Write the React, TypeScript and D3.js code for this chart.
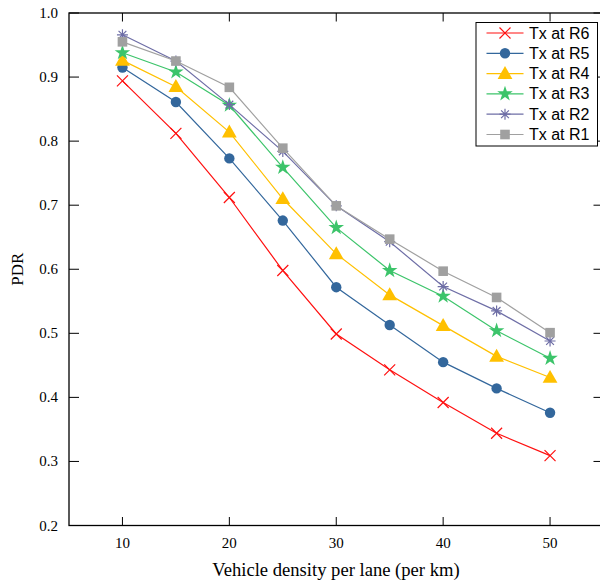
import React from "react";
import * as d3 from "d3";

const densities = [10, 15, 20, 25, 30, 35, 40, 45, 50];
const r6 = [0.894, 0.812, 0.712, 0.598, 0.499, 0.443, 0.392, 0.344, 0.309];
const r5 = [0.915, 0.861, 0.773, 0.676, 0.572, 0.513, 0.455, 0.414, 0.376];
const r4 = [0.926, 0.885, 0.814, 0.710, 0.624, 0.560, 0.512, 0.464, 0.431];
const r3 = [0.938, 0.908, 0.856, 0.759, 0.665, 0.598, 0.558, 0.504, 0.461];
const r2 = [0.966, 0.925, 0.857, 0.784, 0.699, 0.643, 0.573, 0.535, 0.488];
const r1 = [0.955, 0.925, 0.884, 0.789, 0.699, 0.647, 0.597, 0.556, 0.501];
const xTicks = [10, 20, 30, 40, 50];
const yTicks = [0.2, 0.3, 0.4, 0.5, 0.6, 0.7, 0.8, 0.9, 1.0];

type Series = { name: string; values: number[]; color: string; marker: string };
const series: Series[] = [
  { name: "Tx at R6", values: r6, color: "#ff1010", marker: "x" },
  { name: "Tx at R5", values: r5, color: "#33679c", marker: "circle" },
  { name: "Tx at R4", values: r4, color: "#ffc000", marker: "triangle" },
  { name: "Tx at R3", values: r3, color: "#3cc46a", marker: "star" },
  { name: "Tx at R2", values: r2, color: "#6e6ea6", marker: "asterisk" },
  { name: "Tx at R1", values: r1, color: "#a0a0a0", marker: "square" },
];

const W = 600;
const H = 582;
const left = 69;
const right = 603.5;
const top = 13;
const bottom = 525.5;

const x = d3.scaleLinear().domain([5, 55]).range([left, right]);
const y = d3.scaleLinear().domain([0.2, 1.0]).range([bottom, top]);

function Marker({ kind, cx, cy, color }: { kind: string; cx: number; cy: number; color: string }) {
  switch (kind) {
    case "x": {
      const s = 5.5;
      return (
        <path d={`M${cx - s},${cy - s}L${cx + s},${cy + s}M${cx - s},${cy + s}L${cx + s},${cy - s}`} stroke={color} strokeWidth={1.2} fill="none" />
      );
    }
    case "circle":
      return <circle cx={cx} cy={cy} r={5.2} fill={color} />;
    case "triangle": {
      const p = d3.symbol(d3.symbolTriangle, 95)();
      return <path d={p as string} transform={`translate(${cx},${cy + 1})`} fill={color} />;
    }
    case "star": {
      const p = d3.symbol(d3.symbolStar, 75)();
      return <path d={p as string} transform={`translate(${cx},${cy})`} fill={color} />;
    }
    case "asterisk": {
      const s = 5.5;
      const d = [0, 45, 90, 135]
        .map((a) => {
          const r = (a * Math.PI) / 180;
          const dx = Math.cos(r) * s;
          const dy = Math.sin(r) * s;
          return `M${cx - dx},${cy - dy}L${cx + dx},${cy + dy}`;
        })
        .join("");
      return <path d={d} stroke={color} strokeWidth={1.2} fill="none" />;
    }
    case "square":
      return <rect x={cx - 4.8} y={cy - 4.8} width={9.6} height={9.6} fill={color} />;
  }
  return null;
}

export default function App() {
  const line = d3
    .line<number>()
    .x((_, i) => x(densities[i]))
    .y((v) => y(v));

  const legendX = 476;
  const legendY = 22.5;
  const rowH = 20.3;

  return (
    <svg width={W} height={H} style={{ position: "absolute", left: 0, top: 0, background: "#fff" }}>
      <rect x={0} y={0} width={W} height={H} fill="#fff" />
      {/* frame */}
      <rect x={left} y={top} width={right - left} height={bottom - top} fill="none" stroke="#000" strokeWidth={1.3} />
      {/* x ticks */}
      {xTicks.map((t) => (
        <g key={"x" + t}>
          <line x1={x(t)} x2={x(t)} y1={bottom} y2={bottom - 8.5} stroke="#000" strokeWidth={1} />
          <line x1={x(t)} x2={x(t)} y1={top} y2={top + 8.5} stroke="#000" strokeWidth={1} />
          <text x={x(t)} y={548} textAnchor="middle" fontFamily="Liberation Serif" fontSize={15} fill="#000">
            {t}
          </text>
        </g>
      ))}
      {/* y ticks */}
      {yTicks.map((t) => (
        <g key={"y" + t}>
          <line x1={left} x2={left + 10} y1={y(t)} y2={y(t)} stroke="#000" strokeWidth={1} />
          <line x1={right} x2={right - 10} y1={y(t)} y2={y(t)} stroke="#000" strokeWidth={1} />
          <text x={58} y={y(t) + 5} textAnchor="end" fontFamily="Liberation Serif" fontSize={15} fill="#000">
            {t.toFixed(1)}
          </text>
        </g>
      ))}
      <text x={336} y={576} textAnchor="middle" fontFamily="Liberation Serif" fontSize={18.6} fill="#000">
        Vehicle density per lane (per km)
      </text>
      <text
        transform={`translate(23,${(top + bottom) / 2}) rotate(-90)`}
        textAnchor="middle"
        fontFamily="Liberation Serif"
        fontSize={17}
        fill="#000"
      >
        PDR
      </text>
      {/* series */}
      {series.map((s) => (
        <g key={s.name}>
          <path d={line(s.values) as string} fill="none" stroke={s.color} strokeWidth={1.2} />
          {s.values.map((v, i) => (
            <Marker key={i} kind={s.marker} cx={x(densities[i])} cy={y(v)} color={s.color} />
          ))}
        </g>
      ))}
      {/* legend */}
      <rect x={legendX} y={legendY} width={121.5} height={123.5} fill="#fff" stroke="#000" strokeWidth={1} />
      {series.map((s, i) => {
        const cy = legendY + 10.5 + i * rowH;
        return (
          <g key={"l" + s.name}>
            <line x1={486.5} x2={523.5} y1={cy} y2={cy} stroke={s.color} strokeWidth={1.2} />
            <Marker kind={s.marker} cx={505} cy={cy} color={s.color} />
            <text x={529} y={cy + 5.5} fontFamily="Liberation Sans" fontSize={16} fill="#000">
              {s.name}
            </text>
          </g>
        );
      })}
    </svg>
  );
}
